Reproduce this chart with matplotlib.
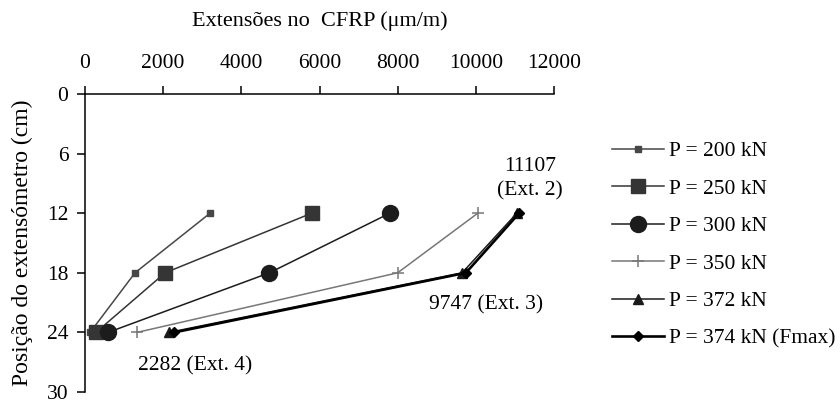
import matplotlib
matplotlib.use("Agg")
import matplotlib.pyplot as plt

plt.rcParams['font.family'] = ['Liberation Serif', 'DejaVu Serif']

# Strain readings (µm/m) at each gauge position (cm), per load step
positions = [24, 18, 12]
strain_200 = [130, 1280, 3200]
strain_250 = [280, 2050, 5800]
strain_300 = [590, 4720, 7800]
strain_350 = [1330, 8000, 10050]
strain_372 = [2150, 9650, 11050]
strain_374 = [2282, 9747, 11107]

labels = ["P = 200 kN", "P = 250 kN", "P = 300 kN", "P = 350 kN",
          "P = 372 kN", "P = 374 kN (Fmax)"]
x_ticks = [0, 2000, 4000, 6000, 8000, 10000, 12000]
y_ticks = [0, 6, 12, 18, 24, 30]

fig = plt.figure(figsize=(8.4, 4.05), dpi=100)
ax = fig.add_axes([85 / 840, 1 - 392 / 405, (554 - 85) / 840, (392 - 94) / 405])

styles = [
    dict(color="#474747", marker="s", markersize=4.2, lw=1.1),
    dict(color="#353535", marker="s", markersize=9.5, lw=1.1),
    dict(color="#1c1c1c", marker="o", markersize=11.5, lw=1.1),
    dict(color="#777777", marker="+", markersize=8, mew=1.1, lw=1.1),
    dict(color="#1a1a1a", marker="^", markersize=7.5, lw=1.1),
    dict(color="#000000", marker="D", markersize=5.5, lw=1.9),
]
series = [strain_200, strain_250, strain_300, strain_350, strain_372, strain_374]
handles = []
for vals, st, lab in zip(series, styles, labels):
    h, = ax.plot(vals, positions, label=lab, clip_on=False, **st)
    handles.append(h)

ax.set_xlim(0, 12000)
ax.set_ylim(30, 0)
ax.xaxis.tick_top()
ax.xaxis.set_label_position("top")
ax.set_xticks(x_ticks)
ax.set_yticks(y_ticks)
ax.tick_params(axis="both", labelsize=15.5, direction="out", length=6, width=1.1, colors="black")
ax.tick_params(axis="x", pad=9)
ax.tick_params(axis="y", pad=6)
for side in ("bottom", "right"):
    ax.spines[side].set_visible(False)
for side in ("top", "left"):
    ax.spines[side].set_linewidth(1.1)

ax.set_xlabel("Extensões no  CFRP (μm/m)", fontsize=16, labelpad=20)
ax.set_ylabel("Posição do extensómetro (cm)", fontsize=17, labelpad=10)

ax.text(11390, 8.5, "11107\n(Ext. 2)", ha="center", va="center",
        fontsize=15.5, linespacing=1.35)
ax.text(10260, 21.25, "9747 (Ext. 3)", ha="center", va="center", fontsize=15.5)
ax.text(2815, 27.4, "2282 (Ext. 4)", ha="center", va="center", fontsize=15.5)

leg = fig.legend(handles=handles, loc="upper left", bbox_to_anchor=(612 / 840, 1 - 141 / 405),
                 frameon=False, fontsize=15.5, handlelength=2.4, handletextpad=0.25,
                 labelspacing=0.81, borderaxespad=0, borderpad=0)

fig.savefig("out.png", dpi=100)
